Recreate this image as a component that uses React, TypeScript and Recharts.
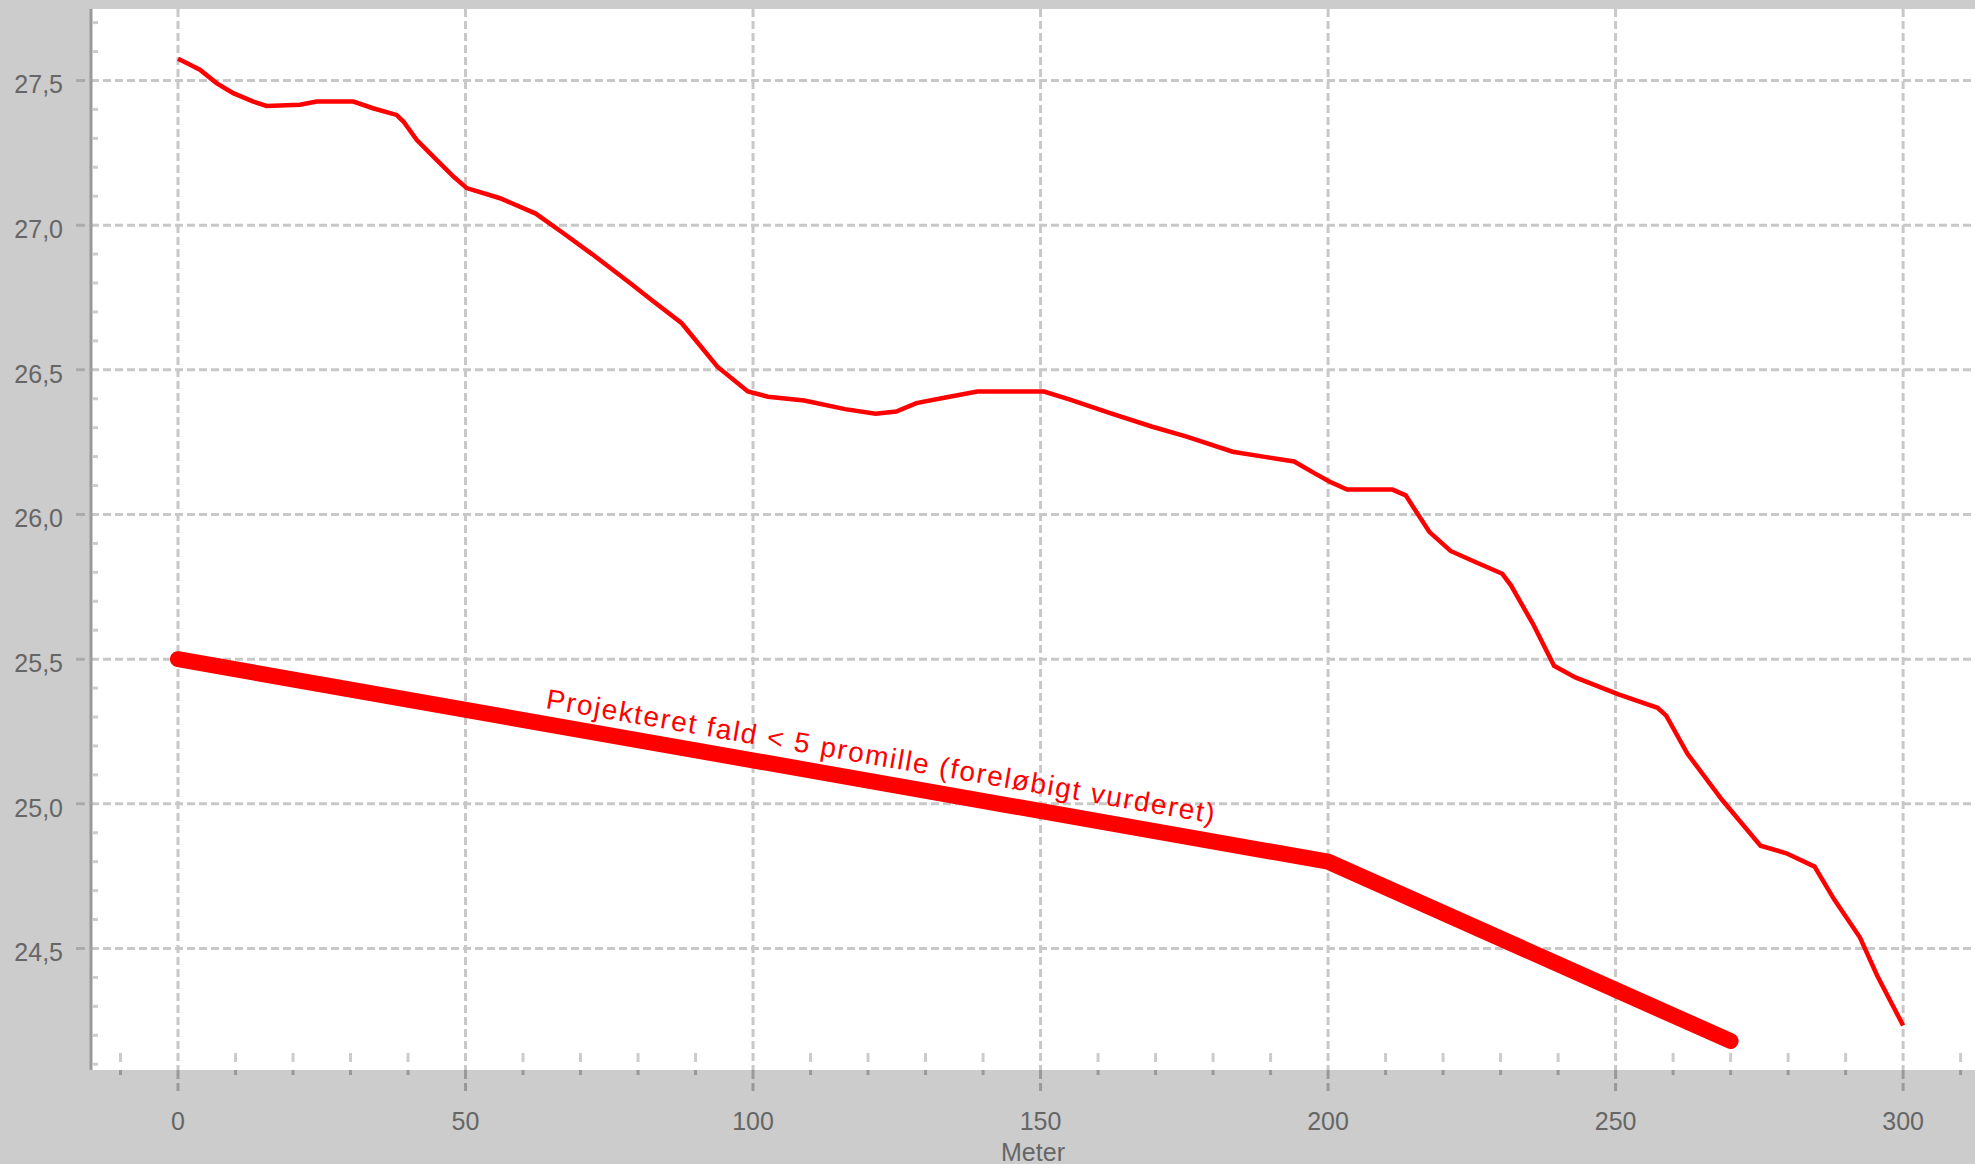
import { LineChart, Line, XAxis, YAxis, CartesianGrid, ReferenceDot } from 'recharts';

// terrain profile (thin line)
const terrainX = [0, 1.5, 3.8, 6.7, 9.6, 13.1, 15.4, 21.2, 24.1, 30.5, 33.9, 38, 39.2, 41.5, 44.4, 47.9, 50.2, 56, 62.2, 66.6, 72, 78.6, 82.3, 87.6, 93.8, 99.1, 102.6, 108.9, 116, 121.3, 124.9, 128.4, 133.7, 139, 150.6, 155, 162.1, 169.3, 175.4, 183.4, 188.7, 194.1, 197.6, 200.3, 203.3, 211.2, 213.5, 217.6, 221.3, 225.8, 230.3, 231.8, 235.6, 239.3, 243, 250.5, 257.3, 258.8, 262.5, 268.5, 275.2, 279.7, 284.6, 288, 292.5, 295.5, 300];
const terrainY = [27.575, 27.56, 27.537, 27.491, 27.456, 27.427, 27.412, 27.416, 27.427, 27.427, 27.404, 27.381, 27.358, 27.295, 27.237, 27.168, 27.128, 27.093, 27.04, 26.978, 26.9, 26.8, 26.742, 26.661, 26.511, 26.425, 26.407, 26.394, 26.364, 26.348, 26.356, 26.385, 26.405, 26.425, 26.425, 26.398, 26.35, 26.304, 26.269, 26.217, 26.2, 26.183, 26.143, 26.113, 26.086, 26.086, 26.066, 25.94, 25.874, 25.834, 25.795, 25.755, 25.623, 25.477, 25.437, 25.378, 25.332, 25.305, 25.173, 25.014, 24.855, 24.829, 24.783, 24.67, 24.538, 24.406, 24.234];

// projected pipe (thick line)
const pipeX = [0, 200, 270];
const pipeY = [25.5, 24.8, 24.18];

const xMajor = [0, 50, 100, 150, 200, 250, 300];
const xTicks = [-10, 0, 10, 20, 30, 40, 50, 60, 70, 80, 90, 100, 110, 120, 130, 140, 150, 160, 170, 180, 190, 200, 210, 220, 230, 240, 250, 260, 270, 280, 290, 300, 310];
const yMajor = [24.5, 25.0, 25.5, 26.0, 26.5, 27.0, 27.5];
const yTicks = [24.1, 24.2, 24.3, 24.4, 24.5, 24.6, 24.7, 24.8, 24.9, 25.0, 25.1, 25.2, 25.3, 25.4, 25.5, 25.6, 25.7, 25.8, 25.9, 26.0, 26.1, 26.2, 26.3, 26.4, 26.5, 26.6, 26.7, 26.8, 26.9, 27.0, 27.1, 27.2, 27.3, 27.4, 27.5, 27.6, 27.7];

const noteText = 'Projekteret fald < 5 promille (foreløbigt vurderet)';
const noteX = 63.8;
const noteY = 25.331;

const terrain = terrainX.map((x, i) => ({ x, y: terrainY[i] }));
const pipe = pipeX.map((x, i) => ({ x, y: pipeY[i] }));

const FONT = '"Liberation Sans", Arial, sans-serif';
const isMajor = (list: number[], v: number) => list.some(m => Math.abs(m - v) < 1e-6);

const XTick = (props: any) => {
  const { x, y, payload } = props;
  const v = payload.value;
  if (isMajor(xMajor, v)) {
    return (
      <g>
        <line x1={x} y1={y} x2={x} y2={y + 21} stroke="#999" strokeWidth={3} strokeDasharray="9 4" />
        <text x={x} y={y + 60} textAnchor="middle" fill="#666" fontSize={25} fontFamily={FONT}>{v}</text>
      </g>
    );
  }
  return (
    <g>
      <line x1={x} y1={y - 17} x2={x} y2={y - 8} stroke="#ccc" strokeWidth={3} />
      <line x1={x} y1={y} x2={x} y2={y + 5} stroke="#999" strokeWidth={3} />
    </g>
  );
};

const YTick = (props: any) => {
  const { x, y, payload } = props;
  const v = payload.value;
  if (isMajor(yMajor, v)) {
    return (
      <g>
        <line x1={x - 15} y1={y} x2={x} y2={y} stroke="#aaa" strokeWidth={3} strokeDasharray="9 4" />
        <text x={x - 28} y={y + 13} textAnchor="end" fill="#666" fontSize={25} fontFamily={FONT}>
          {v.toFixed(1).replace('.', ',')}
        </text>
      </g>
    );
  }
  return <line x1={x + 1.5} y1={y} x2={x + 7} y2={y} stroke="#ccc" strokeWidth={3} />;
};

const Note = (props: any) => {
  const { cx, cy } = props;
  return (
    <text
      x={cx}
      y={cy}
      transform={`rotate(9.8 ${cx} ${cy})`}
      fill="#ff0000"
      fontSize={28}
      fontFamily={FONT}
      textLength={678}
      lengthAdjust="spacing"
    >
      {noteText}
    </text>
  );
};

export default function App() {
  return (
    <div style={{ position: 'absolute', left: 0, top: 0, width: 1975, height: 1164, background: '#cccccc', overflow: 'hidden' }}>
      <LineChart width={1975} height={1164} margin={{ top: 9, right: 0, bottom: 0, left: 0 }}>
        <CartesianGrid
          fill="#ffffff"
          stroke="#c8c8c8"
          strokeWidth={3}
          strokeDasharray="8 4"
          verticalValues={xMajor}
          horizontalValues={yMajor}
        />
        <XAxis
          dataKey="x"
          type="number"
          domain={[-15.13, 312.5]}
          allowDataOverflow
          ticks={xTicks}
          interval={0}
          tick={<XTick />}
          tickSize={0}
          tickMargin={0}
          tickLine={false}
          axisLine={false}
          height={94}
          label={{ value: 'Meter', position: 'insideBottom', offset: 3, fill: '#666', fontSize: 25, fontFamily: FONT }}
        />
        <XAxis
          xAxisId="top"
          orientation="top"
          dataKey="x"
          type="number"
          domain={[-15.13, 312.5]}
          height={0}
          tick={false}
          tickLine={false}
          axisLine={{ stroke: '#999', strokeWidth: 3 }}
        />
        <YAxis
          type="number"
          domain={[24.08, 27.747]}
          allowDataOverflow
          ticks={yTicks}
          interval={0}
          tick={<YTick />}
          tickSize={0}
          tickMargin={0}
          tickLine={false}
          axisLine={{ stroke: '#999', strokeWidth: 3 }}
          width={91}
        />
        <Line
          data={terrain}
          dataKey="y"
          type="linear"
          stroke="#ff0000"
          strokeWidth={4.5}
          dot={false}
          activeDot={false}
          isAnimationActive={false}
        />
        <Line
          data={pipe}
          dataKey="y"
          type="linear"
          stroke="#ff0000"
          strokeWidth={16}
          strokeLinecap="round"
          strokeLinejoin="round"
          dot={false}
          activeDot={false}
          isAnimationActive={false}
        />
        <ReferenceDot x={noteX} y={noteY} r={0} shape={<Note />} />
      </LineChart>
    </div>
  );
}
